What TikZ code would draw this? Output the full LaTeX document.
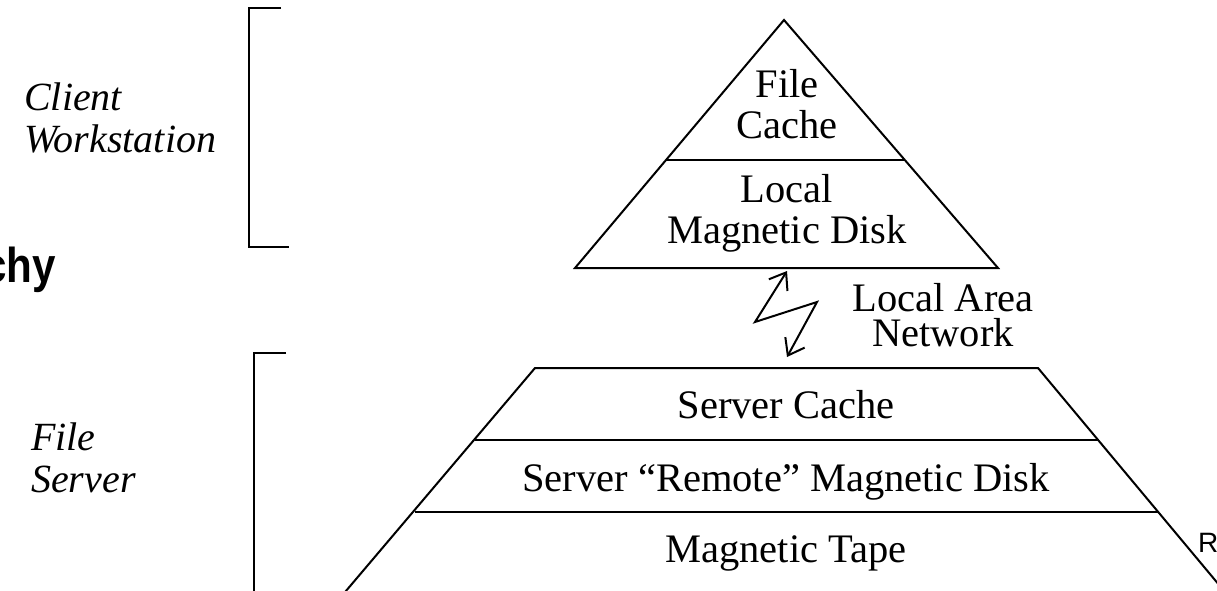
\documentclass[tikz,border=0pt]{standalone}
\usepackage{fontspec}
\setmainfont{Liberation Serif}
\newfontfamily\headfont{Liberation Sans}
\usetikzlibrary{arrows.meta}
\begin{document}
\begin{tikzpicture}[x=1pt,y=-1pt,
  rule/.style={line width=2pt},
  bracket/.style={line width=2.5pt},
  level/.style={font=\fontsize{40.5}{41}\selectfont, inner sep=0pt, anchor=base},
  stack/.style={font=\fontsize{40.5}{41}\selectfont, inner sep=0pt, align=center, anchor=base},
  side/.style={font=\fontsize{40}{42}\selectfont\itshape, inner sep=0pt, align=left, anchor=base west},
  link/.style={line width=2pt, line join=miter,
    {Straight Barb[length=15pt,width=22pt]}-{Straight Barb[length=15pt,width=22pt]}}]
\useasboundingbox (0,0) rectangle (1217,590);

% client pyramid (multi-line labels are placed by the baseline of their last line)
\draw[rule] (575,268) -- (784,20) -- (998,268) -- cycle;
\draw[rule] (666,160) -- (905,160);
\node[stack] (fc) at (787,138) {File\\Cache};
\node[stack] (lm) at (787,243) {Local\\Magnetic Disk};

% server pyramid
\draw[rule] (340,598) -- (535,368) -- (1038,368) -- (1230,598);
\draw[rule] (475,440) -- (1098,440);
\draw[rule] (415,512) -- (1158,512);
\node[level] (sc) at (786,418) {Server Cache};
\node[level] (sd) at (786,491) {Server “Remote” Magnetic Disk};
\node[level] (mt) at (786,562) {Magnetic Tape};

% network link
\coordinate (lanTop) at (787,271);
\coordinate (zA) at (755,322);
\coordinate (zB) at (817,302);
\coordinate (lanBot) at (787,357);
\draw[link] (lanTop) -- (zA) -- (zB) -- (lanBot);
\node[stack, font=\fontsize{40.5}{35}\selectfont] (lan) at (943,346) {Local Area\\Network};

% brackets and their captions
\draw[bracket] (281,8) -- (249,8) -- (249,247) -- (289,247);
\draw[bracket] (286,353) -- (254,353) -- (254,600);
\node[side] (cw) at (24,152) {Client\\Workstation};
\node[side] (fs) at (31,492) {File\\Server};

% title and side mark
\node[font=\headfont\bfseries\fontsize{49}{50}\selectfont, inner sep=0pt, anchor=base east] (title) at (56,282) {\scalebox{0.86}[1]{chy}};
\node[font=\headfont\fontsize{28}{30}\selectfont, inner sep=0pt, anchor=base west] (mark) at (1198,552) {R};
\end{tikzpicture}
\end{document}
